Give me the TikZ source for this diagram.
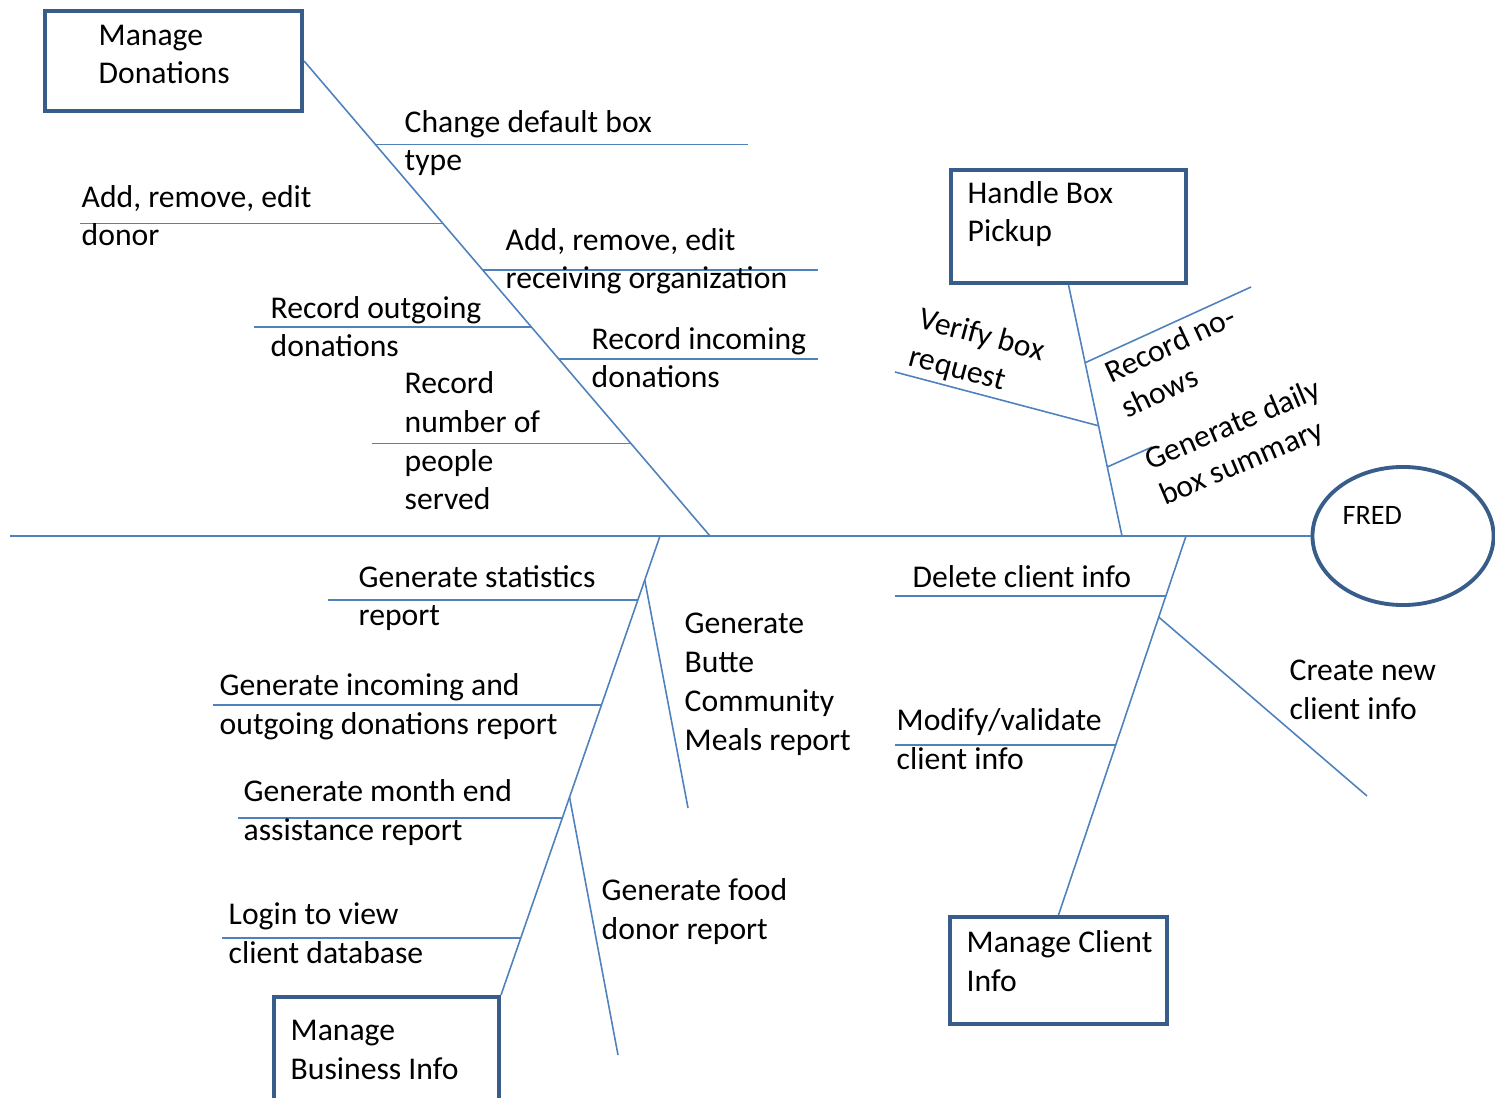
\documentclass[tikz,border=0pt]{standalone}
\usepackage{fontspec}
\setmainfont{Carlito}
\usepackage{tikz}
\usetikzlibrary{shapes.geometric,calc}
\definecolor{boxblue}{HTML}{385D8A}
\definecolor{lineblue}{HTML}{4F81BD}

\begin{document}
\begin{tikzpicture}[x=0.01cm, y=-0.01cm]
  \tikzset{BoxStyle/.style={draw=boxblue, line width=1.1pt, rectangle,
      inner sep=0pt, anchor=north west}}
  \tikzset{HeadStyle/.style={draw=boxblue, line width=1.1pt, ellipse, inner sep=0pt}}
  \tikzset{BoneStyle/.style={draw=lineblue, line width=0.45pt}}
  \tikzset{TextStyle/.style={font=\fontsize{9}{11}\selectfont, align=left,
      inner sep=0pt, anchor=base west}}

  \useasboundingbox (0,0) rectangle (1495,1098);

  \node[HeadStyle, minimum width=1.81cm, minimum height=1.38cm] (fred) at (1403,536) {};
  \node[TextStyle, font=\fontsize{8}{10}\selectfont] (fredT) at (1342,525) {FRED};
  \coordinate (tail) at (10,536);
  \draw[BoneStyle] (tail) -- (fred.west);

  \node[BoxStyle, minimum width=2.57cm, minimum height=1cm] (don) at (43,9) {};
  \node[TextStyle] (donT) at (98,84) {Manage\\Donations};
  \node[BoxStyle, minimum width=2.35cm, minimum height=1.13cm] (hbox) at (949,168) {};
  \node[TextStyle] (hboxT) at (967,242) {Handle Box\\Pickup};
  \node[BoxStyle, minimum width=2.17cm, minimum height=1.07cm] (cbox) at (948,915) {};
  \node[TextStyle] (cboxT) at (966,991) {Manage Client\\Info};
  \node[BoxStyle, minimum width=2.25cm, minimum height=1.2cm] (bbox) at (272,995) {};
  \node[TextStyle] (bboxT) at (290,1079) {Manage\\Business Info};

  \coordinate (jD) at (710,536);
  \coordinate (jH) at (1122,536);
  \coordinate (jC) at (1186,536);
  \coordinate (jB) at (660,536);
  \draw[BoneStyle] (don.east) -- (jD);
  \draw[BoneStyle] (hbox.south) -- (jH);
  \draw[BoneStyle] (cbox.north) -- (jC);
  \draw[BoneStyle] (bbox.north east) -- (jB);

  \coordinate (d1) at ($(don.east)!0.176!(jD)$);
  \coordinate (d2) at ($(don.east)!0.342!(jD)$);
  \coordinate (d3) at ($(don.east)!0.440!(jD)$);
  \coordinate (d4) at ($(don.east)!0.560!(jD)$);
  \coordinate (d5) at ($(don.east)!0.627!(jD)$);
  \coordinate (d6) at ($(don.east)!0.805!(jD)$);
  \coordinate (d1e) at (748,143);
  \coordinate (d2e) at (80,222);
  \coordinate (d3e) at (818,269);
  \coordinate (d4e) at (254,326);
  \coordinate (d5e) at (818,358);
  \coordinate (d6e) at (372,443);
  \draw[BoneStyle] (d1) -- (d1 -| d1e);
  \draw[BoneStyle] (d2) -- (d2 -| d2e);
  \draw[BoneStyle] (d3) -- (d3 -| d3e);
  \draw[BoneStyle] (d4) -- (d4 -| d4e);
  \draw[BoneStyle] (d5) -- (d5 -| d5e);
  \draw[BoneStyle] (d6) -- (d6 -| d6e);
  \node[TextStyle] (d1T) at (404,171) {Change default box\\type};
  \node[TextStyle] (d2T) at (81,246) {Add, remove, edit\\donor};
  \node[TextStyle] (d3T) at (505,289) {Add, remove, edit\\receiving organization};
  \node[TextStyle] (d4T) at (270,357) {Record outgoing\\donations};
  \node[TextStyle] (d5T) at (591,388) {Record incoming\\donations};
  \node[TextStyle] (d6T) at (404,510) {Record\\number of\\people\\served};

  \coordinate (h1) at ($(hbox.south)!0.310!(jH)$);
  \coordinate (h2) at ($(hbox.south)!0.561!(jH)$);
  \coordinate (h3) at ($(hbox.south)!0.725!(jH)$);
  \coordinate (h1e) at (1251,287);
  \coordinate (h2e) at (895,372);
  \coordinate (h3e) at (1152,447);
  \draw[BoneStyle] (h1) -- (h1e);
  \draw[BoneStyle] (h2) -- (h2e);
  \draw[BoneStyle] (h3) -- (h3e);
  \node[TextStyle, rotate=25] (h1T) at (1127,419) {Record no-\\shows};
  \node[TextStyle, rotate=-15] (h2T) at (907,365) {Verify box\\request};
  \node[TextStyle, rotate=23] (h3T) at (1165,506) {Generate daily\\box summary};

  \coordinate (c1) at ($(cbox.north)!0.842!(jC)$);
  \coordinate (c2) at ($(cbox.north)!0.786!(jC)$);
  \coordinate (c3) at ($(cbox.north)!0.449!(jC)$);
  \coordinate (c1e) at (895,596);
  \coordinate (c2e) at (1367,796);
  \coordinate (c3e) at (895,745);
  \draw[BoneStyle] (c1) -- (c1 -| c1e);
  \draw[BoneStyle] (c2) -- (c2e);
  \draw[BoneStyle] (c3) -- (c3 -| c3e);
  \node[TextStyle] (c1T) at (912,588) {Delete client info};
  \node[TextStyle] (c2T) at (1289,719) {Create new\\client info};
  \node[TextStyle] (c3T) at (896,769) {Modify/validate\\client info};

  \coordinate (b1) at ($(bbox.north east)!0.861!(jB)$);
  \coordinate (b2) at ($(bbox.north east)!0.904!(jB)$);
  \coordinate (b3) at ($(bbox.north east)!0.632!(jB)$);
  \coordinate (b4) at ($(bbox.north east)!0.386!(jB)$);
  \coordinate (b5) at ($(bbox.north east)!0.431!(jB)$);
  \coordinate (b6) at ($(bbox.north east)!0.124!(jB)$);
  \coordinate (b1e) at (328,600);
  \coordinate (b2e) at (688,808);
  \coordinate (b3e) at (213,705);
  \coordinate (b4e) at (238,818);
  \coordinate (b5e) at (618,1055);
  \coordinate (b6e) at (222,938);
  \draw[BoneStyle] (b1) -- (b1 -| b1e);
  \draw[BoneStyle] (b2) -- (b2e);
  \draw[BoneStyle] (b3) -- (b3 -| b3e);
  \draw[BoneStyle] (b4) -- (b4 -| b4e);
  \draw[BoneStyle] (b5) -- (b5e);
  \draw[BoneStyle] (b6) -- (b6 -| b6e);
  \node[TextStyle] (b1T) at (358,626) {Generate statistics\\report};
  \node[TextStyle] (b2T) at (684,750) {Generate\\Butte\\Community\\Meals report};
  \node[TextStyle] (b3T) at (219,734) {Generate incoming and\\outgoing donations report};
  \node[TextStyle] (b4T) at (243,840) {Generate month end\\assistance report};
  \node[TextStyle] (b5T) at (601,939) {Generate food\\donor report};
  \node[TextStyle] (b6T) at (228,963) {Login to view\\client database};
\end{tikzpicture}
\end{document}
